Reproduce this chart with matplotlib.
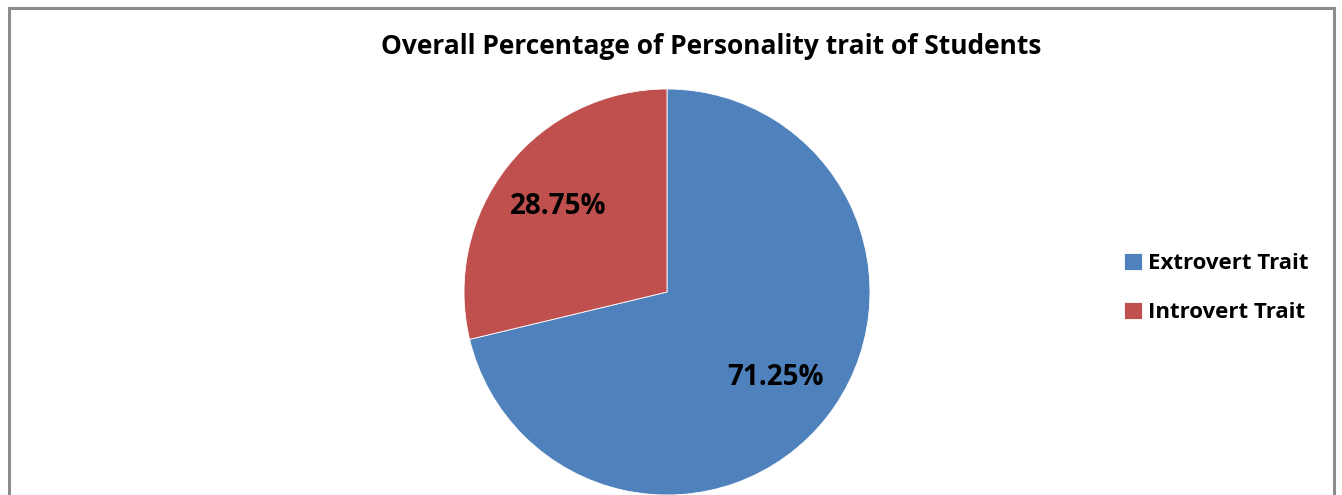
import matplotlib.pyplot as plt
from matplotlib.patches import Rectangle

# Data
traits = ['Extrovert Trait', 'Introvert Trait']
percentages = [71.25, 28.75]
colors = ['#4F81BD', '#C0504D']

plt.rcParams['font.family'] = ['Open Sans', 'DejaVu Sans']

W, H = 1342, 495
fig = plt.figure(figsize=(W / 100, H / 100), dpi=100)

# outer chart border (bottom edge is cut off in the original)
fig.patches.append(Rectangle((9 / W, -0.05), (1334 - 9) / W, 1.05 - 8 / H,
                             transform=fig.transFigure, fill=False,
                             edgecolor='#8c8c8c', linewidth=2.2))

# axes sized so the pie sits where it does in the original
cx, cy, r = 667, 292, 203
ax = fig.add_axes([(cx - r) / W, (H - cy - r) / H, 2 * r / W, 2 * r / H])
wedges, texts, autotexts = ax.pie(percentages, colors=colors, startangle=90,
                                  counterclock=False, autopct='%.2f%%',
                                  pctdistance=0.68,
                                  wedgeprops=dict(edgecolor='white', linewidth=0.6),
                                  textprops=dict(fontsize=20, fontweight='bold', color='black'))
ax.set_xlim(-1, 1)
ax.set_ylim(-1, 1)
ax.set_aspect('equal')
ax.axis('off')

fig.text(711 / W, 1 - 47 / H, 'Overall Percentage of Personality trait of Students',
         ha='center', va='center', fontsize=19, fontweight='bold')

fig.legend(wedges, traits, loc='center left', bbox_to_anchor=(1104 / W, 1 - 288 / H),
           frameon=False, handlelength=0.8, handleheight=0.8, handletextpad=0.3,
           labelspacing=1.25, prop=dict(size=16, weight='bold'))

fig.savefig('out.png', dpi=100)
